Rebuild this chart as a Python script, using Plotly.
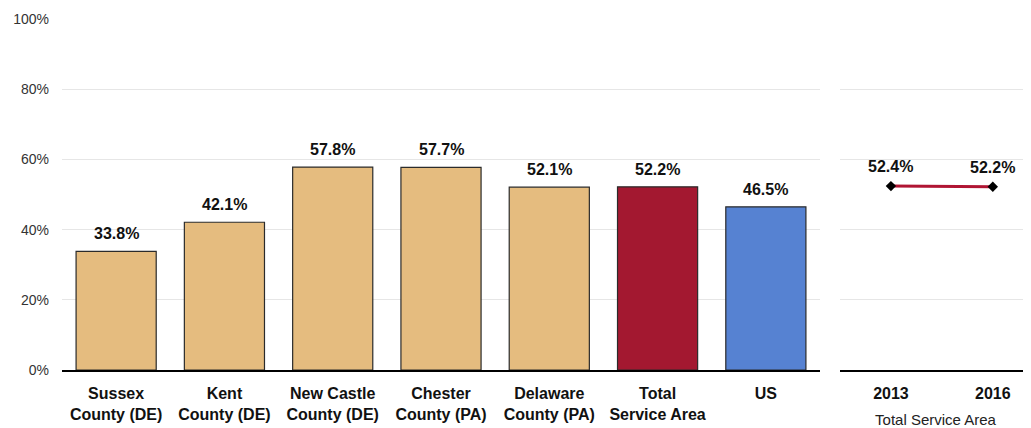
import plotly.graph_objects as go
from plotly.subplots import make_subplots

# Share of population (percent) by area
categories = [
    "Sussex<br>County (DE)",
    "Kent<br>County (DE)",
    "New Castle<br>County (DE)",
    "Chester<br>County (PA)",
    "Delaware<br>County (PA)",
    "Total<br>Service Area",
    "US",
]
values = [33.8, 42.1, 57.8, 57.7, 52.1, 52.2, 46.5]
bar_colors = ["#E5BC7F"] * 5 + ["#A31830", "#5682D2"]

years = ["2013", "2016"]
trend_values = [52.4, 52.2]

FONT = "Liberation Sans Narrow, Arial Narrow, Liberation Sans, Arial, sans-serif"
GRID = "#E6E6E6"
LABEL_FONT = {"family": FONT, "size": 16, "color": "#111111"}

fig = make_subplots(rows=1, cols=2, shared_yaxes=False, horizontal_spacing=0)

fig.add_trace(
    go.Bar(
        x=categories,
        y=values,
        marker={"color": bar_colors, "line": {"color": "#2B2B2B", "width": 1.2}},
        width=0.74,
        showlegend=False,
    ),
    row=1,
    col=1,
)

fig.add_trace(
    go.Scatter(
        x=years,
        y=trend_values,
        mode="lines+markers",
        line={"color": "#B01533", "width": 3},
        marker={"symbol": "diamond", "size": 8, "color": "#000000"},
        cliponaxis=False,
        showlegend=False,
    ),
    row=1,
    col=2,
)

# value labels, a little above each mark
for cat, val in zip(categories, values):
    fig.add_annotation(
        x=cat, y=val, xref="x", yref="y", text=f"<b>{val:.1f}%</b>",
        showarrow=False, yanchor="bottom", yshift=7, font=LABEL_FONT,
    )
# year strings look numeric, so place these by category index
for idx, val in enumerate(trend_values):
    fig.add_annotation(
        x=idx, y=val, xref="x2", yref="y2", text=f"<b>{val:.1f}%</b>",
        showarrow=False, yanchor="bottom", yshift=9, font=LABEL_FONT,
    )

# the page body adds an 8px offset, so the figure is sized to suit
left_end = 758 / 969
right_start = 778 / 969

fig.update_layout(
    width=1023,
    height=420,
    margin={"t": 11, "r": 0, "b": 58, "l": 54, "autoexpand": False},
    plot_bgcolor="white",
    paper_bgcolor="white",
    font={"family": FONT, "color": "#222222"},
    xaxis={
        "domain": [0, left_end],
        "automargin": False,
        "showline": True,
        "linecolor": "#000000",
        "linewidth": 1.5,
        "tickfont": {"family": FONT, "size": 16, "color": "#111111"},
        "ticklabelstandoff": 8,
        "range": [-0.5, 6.5],
    },
    xaxis2={
        "type": "category",
        "domain": [right_start, 1],
        "automargin": False,
        "showline": True,
        "linecolor": "#000000",
        "linewidth": 1.5,
        "range": [-0.5, 1.375],
        "tickfont": {"family": FONT, "size": 16, "color": "#111111"},
        "ticklabelstandoff": 8,
        "title": {
            "text": "Total Service Area",
            "font": {"family": FONT, "size": 15, "color": "#222222"},
            "standoff": 14,
        },
    },
    yaxis={
        "automargin": False,
        "range": [0, 100],
        "dtick": 20,
        "ticksuffix": "%",
        "gridcolor": GRID,
        "zeroline": False,
        "tickfont": {"family": FONT, "size": 14, "color": "#333333"},
        "ticklabelstandoff": 12,
    },
    yaxis2={
        "automargin": False,
        "range": [0, 100],
        "dtick": 20,
        "gridcolor": GRID,
        "zeroline": False,
        "showticklabels": False,
    },
)
fig.update_xaxes(tickprefix="<b>", ticksuffix="</b>")

fig.write_html("out.html")
